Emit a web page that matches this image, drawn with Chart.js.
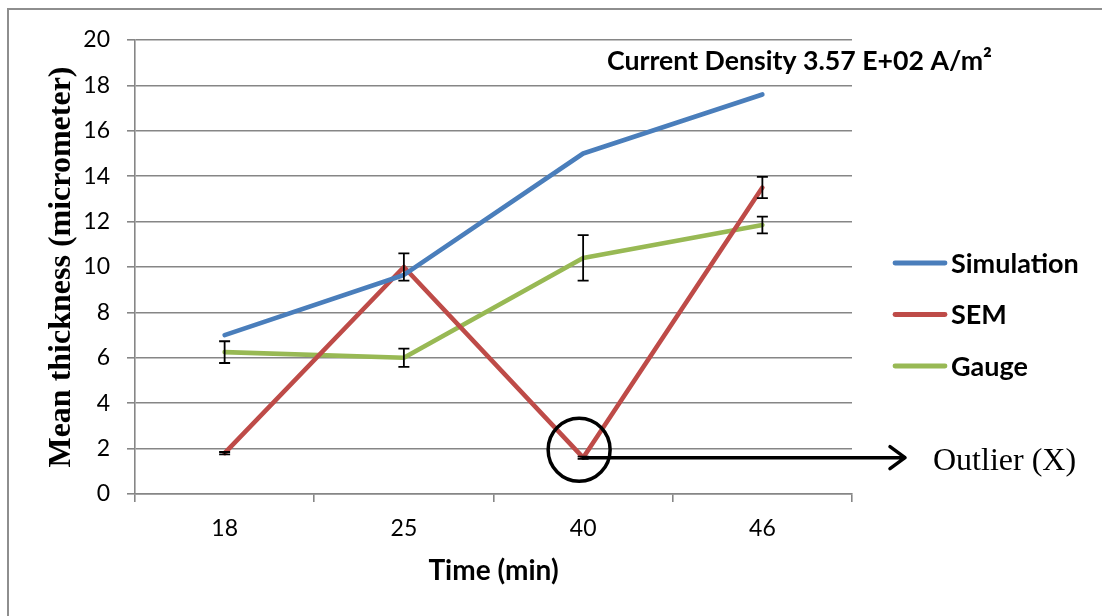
<!DOCTYPE html>
<html>
<head>
<meta charset="utf-8">
<script src="https://cdn.jsdelivr.net/npm/chart.js@4"></script>
<style>
  html, body { margin: 0; padding: 0; background: #fff; }
  #wrap { position: relative; width: 1102px; height: 616px; overflow: hidden; }
  #frame { position: absolute; left: 7px; top: 8px; width: 1120px; height: 640px; border: 2px solid #8e8e8e; }
  #chart { position: absolute; left: 0; top: 0; }
</style>
</head>
<body>
<div id="wrap">
  <div id="frame"></div>
  <canvas id="chart" width="1102" height="616"></canvas>
</div>
<script>
// data
const times = ["18", "25", "40", "46"];
const simulation = [7.0, 9.65, 15.0, 17.6];
const sem = [1.8, 10.0, 1.6, 13.5];
const semErr = [0.05, 0.6, 0.05, 0.47];
const gauge = [6.25, 6.0, 10.4, 11.85];
const gaugeErr = [0.48, 0.4, 1.0, 0.37];
const seriesNames = ["Simulation", "SEM", "Gauge"];
const seriesColors = ["#4a7ebb", "#be4b48", "#98b954"];
const outlierIndex = 2;

const gridColor = "#868686";

Chart.defaults.font.family = "Lato";
Chart.defaults.color = "#000";

// black error bars on top of the lines
const errorBars = {
  id: "errorBars",
  afterDatasetsDraw(chart) {
    const { ctx } = chart;
    const y = chart.scales.y;
    ctx.save();
    ctx.strokeStyle = "#000";
    ctx.lineWidth = 1.8;
    chart.data.datasets.forEach((ds, di) => {
      if (!ds.errorBars) return;
      chart.getDatasetMeta(di).data.forEach((pt, i) => {
        const v = ds.data[i], e = ds.errorBars[i];
        const top = y.getPixelForValue(v + e);
        const bot = y.getPixelForValue(v - e);
        ctx.beginPath();
        ctx.moveTo(pt.x, top); ctx.lineTo(pt.x, bot);
        ctx.moveTo(pt.x - 5.5, top); ctx.lineTo(pt.x + 5.5, top);
        ctx.moveTo(pt.x - 5.5, bot); ctx.lineTo(pt.x + 5.5, bot);
        ctx.stroke();
      });
    });
    ctx.restore();
  }
};

// legend on the right, a thick line per series
const sideLegend = {
  id: "sideLegend",
  afterDraw(chart) {
    const { ctx } = chart;
    ctx.save();
    ctx.font = "bold 27px Lato";
    ctx.textBaseline = "middle";
    ctx.textAlign = "left";
    chart.data.datasets.forEach((ds, i) => {
      const yy = 263 + i * 51.5;
      ctx.strokeStyle = ds.borderColor;
      ctx.lineWidth = 4.8;
      ctx.lineCap = "round";
      ctx.beginPath();
      ctx.moveTo(895, yy);
      ctx.lineTo(945, yy);
      ctx.stroke();
      ctx.fillStyle = "#000";
      ctx.fillText(ds.label, 951, yy + 1);
    });
    ctx.restore();
  }
};

// title text inside the plot, circle + arrow round the outlier
const notes = {
  id: "notes",
  afterDraw(chart) {
    const { ctx } = chart;
    const x = chart.scales.x, y = chart.scales.y;
    ctx.save();
    ctx.fillStyle = "#000";
    ctx.font = "bold 26.7px Lato";
    ctx.textBaseline = "alphabetic";
    ctx.fillText("Current Density 3.57 E+02 A/m\u00B2", 607, 70);

    const px = x.getPixelForValue(outlierIndex);
    const py = y.getPixelForValue(sem[outlierIndex]);
    ctx.strokeStyle = "#000";
    ctx.lineWidth = 3.5;
    ctx.beginPath();
    ctx.ellipse(px - 4, py - 8, 31, 31.5, 0, 0, Math.PI * 2);
    ctx.stroke();

    ctx.lineWidth = 3.5;
    ctx.lineCap = "round";
    ctx.lineJoin = "round";
    ctx.beginPath();
    ctx.moveTo(px, py);
    ctx.lineTo(905, py);
    ctx.moveTo(890, py - 11);
    ctx.lineTo(905, py);
    ctx.lineTo(890, py + 11);
    ctx.stroke();

    ctx.font = "32px 'Liberation Serif'";
    ctx.fillText("Outlier (X)", 933, py + 12);
    ctx.restore();
  }
};

const makeSet = (i, data, err) => ({
  label: seriesNames[i],
  data: data,
  errorBars: err,
  borderColor: seriesColors[i],
  backgroundColor: seriesColors[i],
  borderWidth: 4.6,
  borderCapStyle: "round",
  borderJoinStyle: "round",
  pointRadius: 0,
  tension: 0
});

new Chart(document.getElementById("chart"), {
  type: "line",
  data: {
    labels: times,
    datasets: [
      makeSet(0, simulation, null),
      makeSet(1, sem, semErr),
      makeSet(2, gauge, gaugeErr)
    ]
  },
  options: {
    responsive: false,
    animation: false,
    devicePixelRatio: 1,
    layout: { padding: { left: 8, right: 250, top: 40, bottom: 0 } },
    plugins: {
      legend: { display: false },
      tooltip: { enabled: false }
    },
    scales: {
      x: {
        offset: true,
        grid: { offset: true, drawOnChartArea: false, drawTicks: true, tickLength: 8, color: gridColor, lineWidth: 1.6 },
        border: { display: true, color: gridColor, width: 1.6 },
        ticks: { font: { size: 23 }, padding: 13, color: "#000" },
        title: {
          display: true,
          text: "Time (min)",
          font: { size: 28, weight: "bold" },
          padding: { top: 0, bottom: 28 },
          color: "#000"
        },
        afterFit(scale) { scale.height = 122; }
      },
      y: {
        min: 0,
        max: 20,
        ticks: { stepSize: 2, font: { size: 23 }, padding: 17, color: "#000" },
        grid: { color: gridColor, lineWidth: 1.6, tickLength: 8 },
        border: { display: true, color: gridColor, width: 1.6 },
        title: {
          display: true,
          text: "Mean thickness (micrometer)",
          font: { family: "'Liberation Serif'", size: 32, weight: "bold" },
          padding: { top: 35, bottom: 0 },
          color: "#000"
        },
        afterFit(scale) { scale.width = 127; }
      }
    }
  },
  plugins: [errorBars, sideLegend, notes]
});
</script>
</body>
</html>
